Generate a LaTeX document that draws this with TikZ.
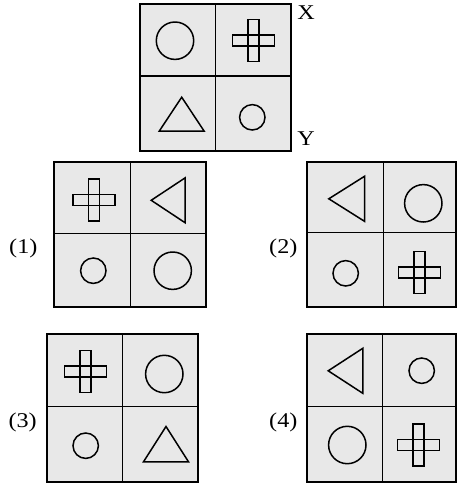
\documentclass[tikz,border=0pt]{standalone}
\usepackage{fontspec}
\setmainfont{Liberation Serif}
\usetikzlibrary{calc}
\definecolor{cellgray}{HTML}{E8E8E8}
\tikzset{
  frame/.style={draw=black, line width=2pt},
  divider/.style={draw=black, line width=1.4pt},
  figline/.style={draw=black, line width=1.5pt, line join=miter},
  lbl/.style={font=\fontsize{21}{21}\selectfont, inner sep=0pt}
}
\newcommand{\Lab}[1]{\scalebox{1.15}[1]{#1}}
% board: x0 y0 x1 y1 xm ym
\newcommand{\Board}[6]{%
  \fill[cellgray] (#1,#2) rectangle (#3,#4);
  \draw[divider] (#5,#2) -- (#5,#4);
  \draw[divider] (#1,#6) -- (#3,#6);
  \draw[frame] (#1,#2) rectangle (#3,#4);}
\newcommand{\BigC}[2]{\draw[figline] (#1,#2) circle[radius=18.7pt];}
\newcommand{\SmallC}[2]{\draw[figline] (#1,#2) circle[radius=12.7pt];}
\newcommand{\Crs}[2]{%
  \draw[figline] ($(#1,#2)+(-21,-5.5)$) rectangle ($(#1,#2)+(21,5.5)$);
  \draw[figline] ($(#1,#2)+(-5.5,-21)$) rectangle ($(#1,#2)+(5.5,21)$);}
% up triangle: apex x, apex y, base y
\newcommand{\TriUp}[3]{\draw[figline] (#1,#2) -- ($(#1,#3)+(22.5,0)$) -- ($(#1,#3)+(-22.5,0)$) -- cycle;}
% left triangle: apex x, center y, right x
\newcommand{\TriLeft}[3]{\draw[figline] (#1,#2) -- ($(#3,#2)+(0,-22.5)$) -- ($(#3,#2)+(0,22.5)$) -- cycle;}
\begin{document}
\begin{tikzpicture}[x=1pt,y=-1pt]
\useasboundingbox (0,0) rectangle (457,483);
% question figure
\Board{139.5}{4}{291}{151}{215.7}{76}
\BigC{175}{40.7}
\Crs{253.7}{40.7}
\TriUp{181.7}{97.2}{131.2}
\SmallC{252.3}{117.3}
\node[lbl] (X) at (306,13) {\Lab{X}};
\node[lbl] (Y) at (306,139) {\Lab{Y}};
% option 1
\Board{54.3}{161.7}{205.7}{307.3}{130.7}{233.3}
\Crs{94}{200}
\TriLeft{151.2}{200.3}{185.2}
\SmallC{93.3}{270.7}
\BigC{172.7}{270.7}
\node[lbl] (o1) at (23.3,248.3) {\Lab{(1)}};
% option 2
\Board{307.3}{161.7}{456}{307.3}{383.3}{232.7}
\TriLeft{328.8}{198.8}{364.5}
\BigC{423.3}{203.3}
\SmallC{345.7}{273.3}
\Crs{419.3}{272.7}
\node[lbl] (o2) at (283.3,248.3) {\Lab{(2)}};
% option 3
\Board{46.7}{334.3}{198.3}{481.7}{122.7}{406.7}
\Crs{85.7}{371.7}
\BigC{164.3}{374}
\SmallC{85.7}{445.7}
\TriUp{166}{426.5}{461.8}
\node[lbl] (o3) at (22.7,422.7) {\Lab{(3)}};
% option 4
\Board{306.7}{334.3}{456}{481.7}{382.3}{406.7}
\TriLeft{328.2}{370.8}{362.8}
\SmallC{421.7}{370.7}
\BigC{347.3}{445}
\Crs{418.3}{445}
\node[lbl] (o4) at (283.3,422.7) {\Lab{(4)}};
\end{tikzpicture}
\end{document}
